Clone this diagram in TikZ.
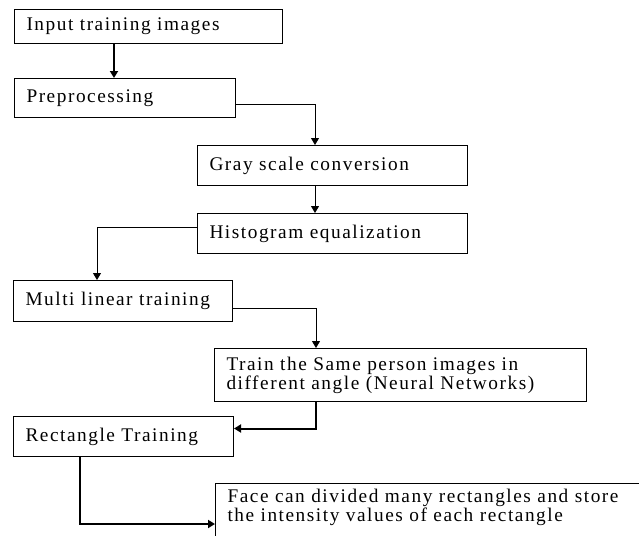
\documentclass[tikz,border=0pt]{standalone}
\usepackage{fontspec}
\setmainfont{Liberation Serif}[LetterSpace=8]
\usetikzlibrary{arrows.meta}
\begin{document}
\begin{tikzpicture}[x=1pt, y=-1pt, thin line/.style={line width=1pt}, thick line/.style={line width=2pt},
  tip/.style={-{Triangle[width=8pt,length=7pt]}},
  main box/.style={draw, line width=1pt, anchor=north west, align=left, inner xsep=12pt, inner ysep=3pt, font=\fontsize{19.3}{19}\selectfont}]
\useasboundingbox (0,0) rectangle (639,535);
\clip (0,0) rectangle (639,535);
\begin{scope}
\node[main box, text width=244pt, minimum height=34pt] (input) at (14,9) {Input training images};
\node[main box, text width=197pt, minimum height=39pt] (prep) at (14,78) {Preprocessing};
\node[main box, text width=246pt, minimum height=40pt] (gray) at (197,145) {Gray scale conversion};
\node[main box, text width=246pt, minimum height=40pt] (hist) at (197,213) {Histogram equalization};
\node[main box, text width=195pt, minimum height=41pt] (multi) at (13,280) {Multi linear training};
\node[main box, text width=348pt, minimum height=53pt] (train) at (214,348) {Train the Same person images in\\different angle (Neural Networks)};
\node[main box, text width=196pt, minimum height=40pt] (rect) at (13,416) {Rectangle Training};
\node[main box, text width=416pt, text depth=40pt, inner ysep=6pt] (face) at (215,483) {Face can divided many rectangles and store\\the intensity values of each rectangle};
%\node[main box] () at (,) {};
\end{scope}
\begin{scope}
\draw[thick line, tip] ([xshift=100pt]input.south west) -- ([xshift=100pt]prep.north west);
\draw[thin line, tip] ([yshift=-6.5pt]prep.east) -| ([xshift=118pt]gray.north west);
\draw[thin line, tip] ([xshift=118pt]gray.south west) -- ([xshift=118pt]hist.north west);
\draw[thin line, tip] ([yshift=6pt]hist.west) -| ([xshift=84pt]multi.north west);
\draw[thin line, tip] ([yshift=-7.5pt]multi.east) -| ([xshift=102pt]train.north west);
\draw[thick line, tip] ([xshift=102pt]train.south west) |- ([yshift=8pt]rect.east);
\draw[thick line, tip] ([xshift=67pt]rect.south west) |- ([yshift=-41pt]face.north west);
%\draw[thin line, tip] () -- ();
\end{scope}
\end{tikzpicture}
\end{document}
